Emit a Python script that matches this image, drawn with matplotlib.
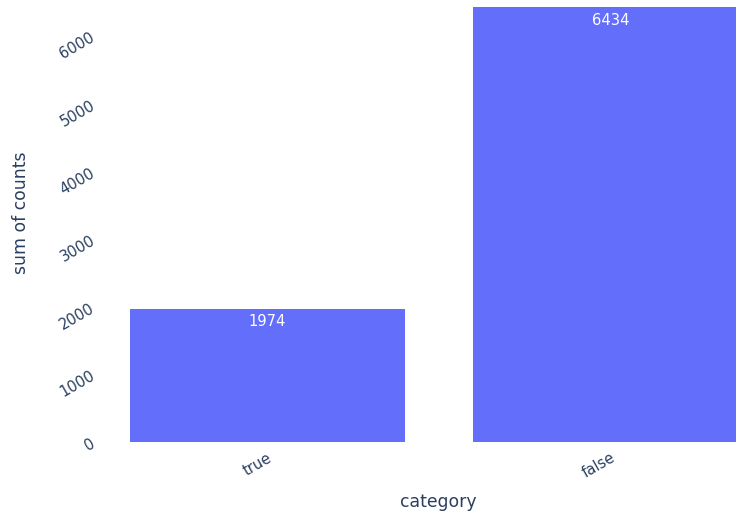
import matplotlib.pyplot as plt

categories = ['true', 'false']
counts = [1974, 6434]
yticks = [0, 1000, 2000, 3000, 4000, 5000, 6000]

bar_color = '#636efa'
text_color = '#2a3f5f'

fig = plt.figure(figsize=(7.36, 5.13), dpi=100)
# plot area runs past the right edge, like the original
ax = fig.add_axes([95.75 / 736, 71 / 513, 686.25 / 736, 442 / 513])

x = list(range(len(categories)))
bars = ax.bar(x, counts, width=0.8, color=bar_color, linewidth=0)

for rect, v in zip(bars, counts):
    ax.annotate(str(v),
                xy=(rect.get_x() + rect.get_width() / 2, rect.get_height()),
                xytext=(0, -9.4), textcoords='offset points',
                ha='center', va='center', color='white', fontsize=10.6)

ax.set_xlim(-0.5, 1.5)
ax.set_ylim(0, 6545)
ax.set_xticks(x)
ax.set_xticklabels(categories)
ax.set_yticks(yticks)
ax.set_yticklabels([str(t) for t in yticks])

for s in ax.spines.values():
    s.set_visible(False)

ax.tick_params(axis='both', length=0, colors=text_color, labelsize=10.6)
ax.tick_params(axis='x', pad=5.8)
ax.tick_params(axis='y', pad=1.5)
for lbl in ax.get_xticklabels():
    lbl.set_rotation(30)
    lbl.set_ha('right')
    lbl.set_va('top')
    lbl.set_rotation_mode('anchor')
for lbl in ax.get_yticklabels():
    lbl.set_rotation(30)
    lbl.set_ha('right')
    lbl.set_va('center')
    lbl.set_rotation_mode('anchor')

ax.set_xlabel('category', color=text_color, fontsize=12.4, va='center')
ax.set_ylabel('sum of counts', color=text_color, fontsize=12.4, va='center')
ax.xaxis.set_label_coords(0.4987, -0.1357)
ax.yaxis.set_label_coords(-0.1091, 0.518)

fig.savefig('out.png', dpi=100)
